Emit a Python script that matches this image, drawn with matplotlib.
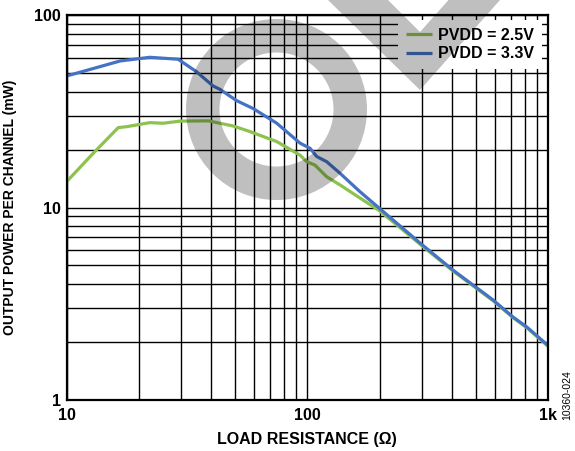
import matplotlib
matplotlib.use("Agg")
import matplotlib.pyplot as plt
from matplotlib.patches import Annulus, Polygon
from matplotlib.ticker import FixedLocator, NullFormatter, FixedFormatter

plt.rcParams['font.family'] = ['Liberation Sans', 'DejaVu Sans']

# Data (load resistance in ohms, output power in mW)
r_33 = [10.0, 16.7, 22.2, 29.1, 34.7, 40.6, 43.4, 50.9, 59.5, 74.7, 93.3, 102.7,
        109.5, 120.4, 136.8, 165.6, 182.3, 294, 403, 591, 715, 818, 1000]
p_33 = [48.2, 57.7, 60.3, 58.9, 50.7, 42.8, 41.1, 35.9, 32.7, 27.4, 21.6, 20.3,
        18.4, 17.3, 15.06, 12.08, 10.9, 6.54, 4.73, 3.31, 2.70, 2.39, 1.92]
r_25 = [10.0, 12.9, 16.4, 17.8, 22.2, 25.2, 29.6, 38.8, 49.3, 57.8, 74.7, 93.3,
        99.5, 107.7, 120.4, 136.8, 165.6, 200, 294, 403, 591, 715, 818, 1000]
p_25 = [13.6, 19.1, 26.0, 26.3, 27.6, 27.4, 28.1, 28.2, 26.5, 24.8, 22.0, 18.7,
        17.3, 16.6, 14.45, 13.1, 11.2, 9.6, 6.45, 4.68, 3.28, 2.68, 2.37, 1.90]

labels = ['PVDD = 2.5V', 'PVDD = 3.3V']
colors = ['#8DC24F', '#4472C4']

x_major = [10, 100, 1000]
x_major_labels = ['10', '100', '1k']
y_major = [1, 10, 100]
y_major_labels = ['1', '10', '100']

fig = plt.figure(figsize=(5.75, 4.51), dpi=100)
ax = fig.add_axes([66.5/575, 1 - 400/451, (548 - 66.5)/575, (400 - 15)/451])

ax.plot(r_25, p_25, color=colors[0], lw=2.3, label=labels[0], zorder=3,
        solid_capstyle='butt')
ax.plot(r_33, p_33, color=colors[1], lw=2.3, label=labels[1], zorder=3,
        solid_capstyle='butt')

ax.set_xscale('log')
ax.set_yscale('log')
ax.set_xlim(10, 1000)
ax.set_ylim(1, 100)

ax.xaxis.set_major_locator(FixedLocator(x_major))
ax.xaxis.set_major_formatter(FixedFormatter(x_major_labels))
ax.yaxis.set_major_locator(FixedLocator(y_major))
ax.yaxis.set_major_formatter(FixedFormatter(y_major_labels))
ax.xaxis.set_minor_locator(FixedLocator([m * d for d in (10, 100) for m in range(2, 10)]))
ax.yaxis.set_minor_locator(FixedLocator([m * d for d in (1, 10) for m in range(2, 10)]))
ax.xaxis.set_minor_formatter(NullFormatter())
ax.yaxis.set_minor_formatter(NullFormatter())

ax.grid(True, which='both', color='black', lw=1.0)
ax.set_axisbelow(True)
ax.tick_params(which='both', length=0)
ax.tick_params(axis='x', pad=6, labelsize=11.5)
ax.tick_params(axis='y', pad=4, labelsize=11.5)
for lab in ax.get_xticklabels() + ax.get_yticklabels():
    lab.set_fontweight('bold')
for s in ax.spines.values():
    s.set_linewidth(1.6)
    s.set_zorder(4)

ax.set_xlabel('LOAD RESISTANCE (Ω)', fontsize=11.5, fontweight='bold', labelpad=6)
ax.set_ylabel('OUTPUT POWER PER CHANNEL (mW)', fontsize=10, fontweight='bold')
ax.yaxis.set_label_coords(-(66.5 - 17.5) / 481.5, 0.5)

leg = ax.legend(loc='upper right', bbox_to_anchor=(1 - 6/481.5, 1 - 5/385),
                borderaxespad=0, borderpad=0.5, handlelength=1.6, handletextpad=0.4,
                labelspacing=0.2, frameon=True, fancybox=False, framealpha=1,
                prop={'size': 11.5, 'weight': 'bold'})
leg.get_frame().set_edgecolor('none')
leg.get_frame().set_facecolor('white')
leg.set_zorder(5)

fig.text(567/575, 1 - 395/451, '10360-024', rotation=90, fontsize=7.5,
         ha='center', va='center')

# Gray watermark (multiply-like via translucent black), in inches
tr = fig.dpi_scale_trans
H = 4.51
ring = Annulus((2.765, H - 1.095), 0.905, 0.335, transform=tr,
               facecolor='black', edgecolor='none', alpha=0.25, zorder=10)
fig.add_artist(ring)
vpts = [(3.28, H + 0.0), (4.20, H - 0.90), (5.00, H + 0.0), (4.485, H + 0.0),
        (4.20, H - 0.32), (3.88, H + 0.0)]
vee = Polygon(vpts, closed=True, transform=tr, facecolor='black', edgecolor='none',
              alpha=0.25, zorder=10)
fig.add_artist(vee)

fig.savefig('out.png', dpi=100)
